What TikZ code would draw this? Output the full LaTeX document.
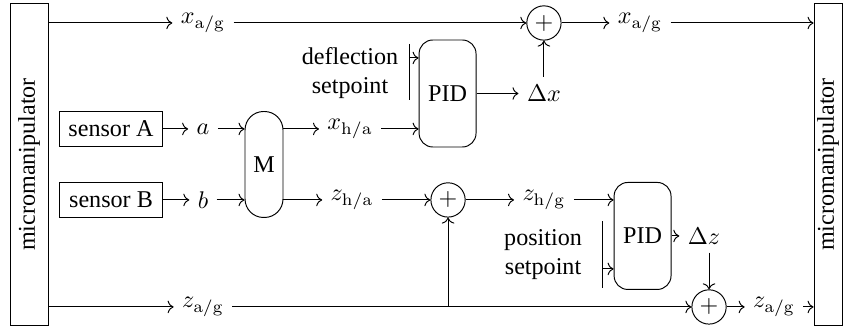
\documentclass[tikz,border=0pt]{standalone}
\usepackage[no-math]{fontspec}
\setmainfont{Liberation Serif}
\usetikzlibrary{arrows.meta, positioning}

\tikzset{
  manipbox/.style={draw, minimum height=4.68cm, label={[rotate=90]center:micromanipulator}},
  sensorbox/.style={draw, minimum width=1.49cm, minimum height=0.51cm},
  mbox/.style={draw, rounded corners=0.27cm, minimum width=0.554cm, minimum height=1.545cm},
  pidbox/.style={draw, rounded corners=0.2cm, minimum width=0.83cm, minimum height=1.56cm},
  somador/.style={draw, circle, inner sep=0pt, minimum size=0.5cm}
}

\begin{document}
\begin{tikzpicture}

  \useasboundingbox (0,0) rectangle (12.29,4.84);

  % Micromanipulador (entrada e saida)
  \node[manipbox, minimum width=0.554cm] (mm_in) at (0.423,2.442) {};
  \node[manipbox, minimum width=0.408cm] (mm_out) at (12.072,2.442) {};

  % Sensores e bloco M
  \node[sensorbox] (senA) at (1.618,2.960) {sensor A};
  \node[sensorbox] (senB) at (1.618,1.925) {sensor B};
  \node (a) at (2.960,2.960) {$a$};
  \node (b) at (2.960,1.925) {$b$};
  \node[mbox] (M) at (3.849,2.442) {M};
  \node (xha) at (5.103,2.960) {$x_{\mathrm{h/a}}$};
  \node (zha) at (5.132,1.925) {$z_{\mathrm{h/a}}$};

  % Malha de deflexao
  \node[pidbox] (pid_x) at (6.525,3.477) {PID};
  \node[align=center] (defl) at (5.103,3.776) {deflection\\setpoint};
  \node (dx) at (7.930,3.477) {$\Delta x$};
  \node[somador] (som_x) at (7.930,4.505) {$+$};
  \node (xag_in) at (2.960,4.505) {$x_{\mathrm{a/g}}$};
  \node (xag_out) at (9.331,4.505) {$x_{\mathrm{a/g}}$};

  % Malha de posicao
  \node[somador] (som_h) at (6.532,1.925) {$+$};
  \node (zhg) at (7.930,1.925) {$z_{\mathrm{h/g}}$};
  \node[pidbox] (pid_z) at (9.368,1.400) {PID};
  \node[align=center] (posi) at (7.917,1.123) {position\\setpoint};
  \node (dz) at (10.264,1.400) {$\Delta z$};
  \node[somador] (som_z) at (10.337,0.365) {$+$};
  \node (zag_in) at (2.960,0.365) {$z_{\mathrm{a/g}}$};
  \node (zag_out) at (11.285,0.365) {$z_{\mathrm{a/g}}$};

  % Barras de setpoint
  \coordinate (bar_x_top) at (5.963,4.199);
  \coordinate (bar_x_bot) at (5.963,3.382);
  \coordinate (sp_x) at (5.963,3.995);
  \coordinate (bar_z_top) at (8.777,1.618);
  \coordinate (bar_z_bot) at (8.777,0.642);
  \coordinate (sp_z) at (8.777,0.919);
  \draw (bar_x_top) -- (bar_x_bot);
  \draw (bar_z_top) -- (bar_z_bot);
  \draw[->] (sp_x) -- (sp_x -| pid_x.west);
  \draw[->] (sp_z) -- (sp_z -| pid_z.west);

  % Linha superior
  \draw[->] (mm_in.east |- xag_in) -- (xag_in);
  \draw[->] (xag_in) -- (som_x);
  \draw[->] (som_x) -- (xag_out);
  \draw[->] (xag_out) -- (xag_out -| mm_out.west);

  % Sensores -> M -> PID
  \draw[->] (senA) -- (a);
  \draw[->] (senB) -- (b);
  \draw[->] (a) -- (a -| M.west);
  \draw[->] (b) -- (b -| M.west);
  \draw[->] (M.east |- xha) -- (xha);
  \draw[->] (xha) -- (xha -| pid_x.west);
  \draw[->] (pid_x) -- (dx);
  \draw[->] (dx) -- (som_x);
  \draw[->] (M.east |- zha) -- (zha);
  \draw[->] (zha) -- (som_h);
  \draw[->] (som_h) -- (zhg);
  \draw[->] (zhg) -- (zhg -| pid_z.west);
  \draw[->] (pid_z) -- (dz);
  \draw[->] (dz.south -| som_z) -- (som_z);

  % Linha inferior (com ramo para o somador)
  \coordinate (ramo) at (som_h |- zag_in);
  \draw[->] (mm_in.east |- zag_in) -- (zag_in);
  \draw[->] (zag_in) -- (som_z);
  \draw[->] (ramo) -- (som_h);
  \draw[->] (som_z) -- (zag_out);
  \draw[->] (zag_out) -- (zag_out -| mm_out.west);

\end{tikzpicture}
\end{document}
